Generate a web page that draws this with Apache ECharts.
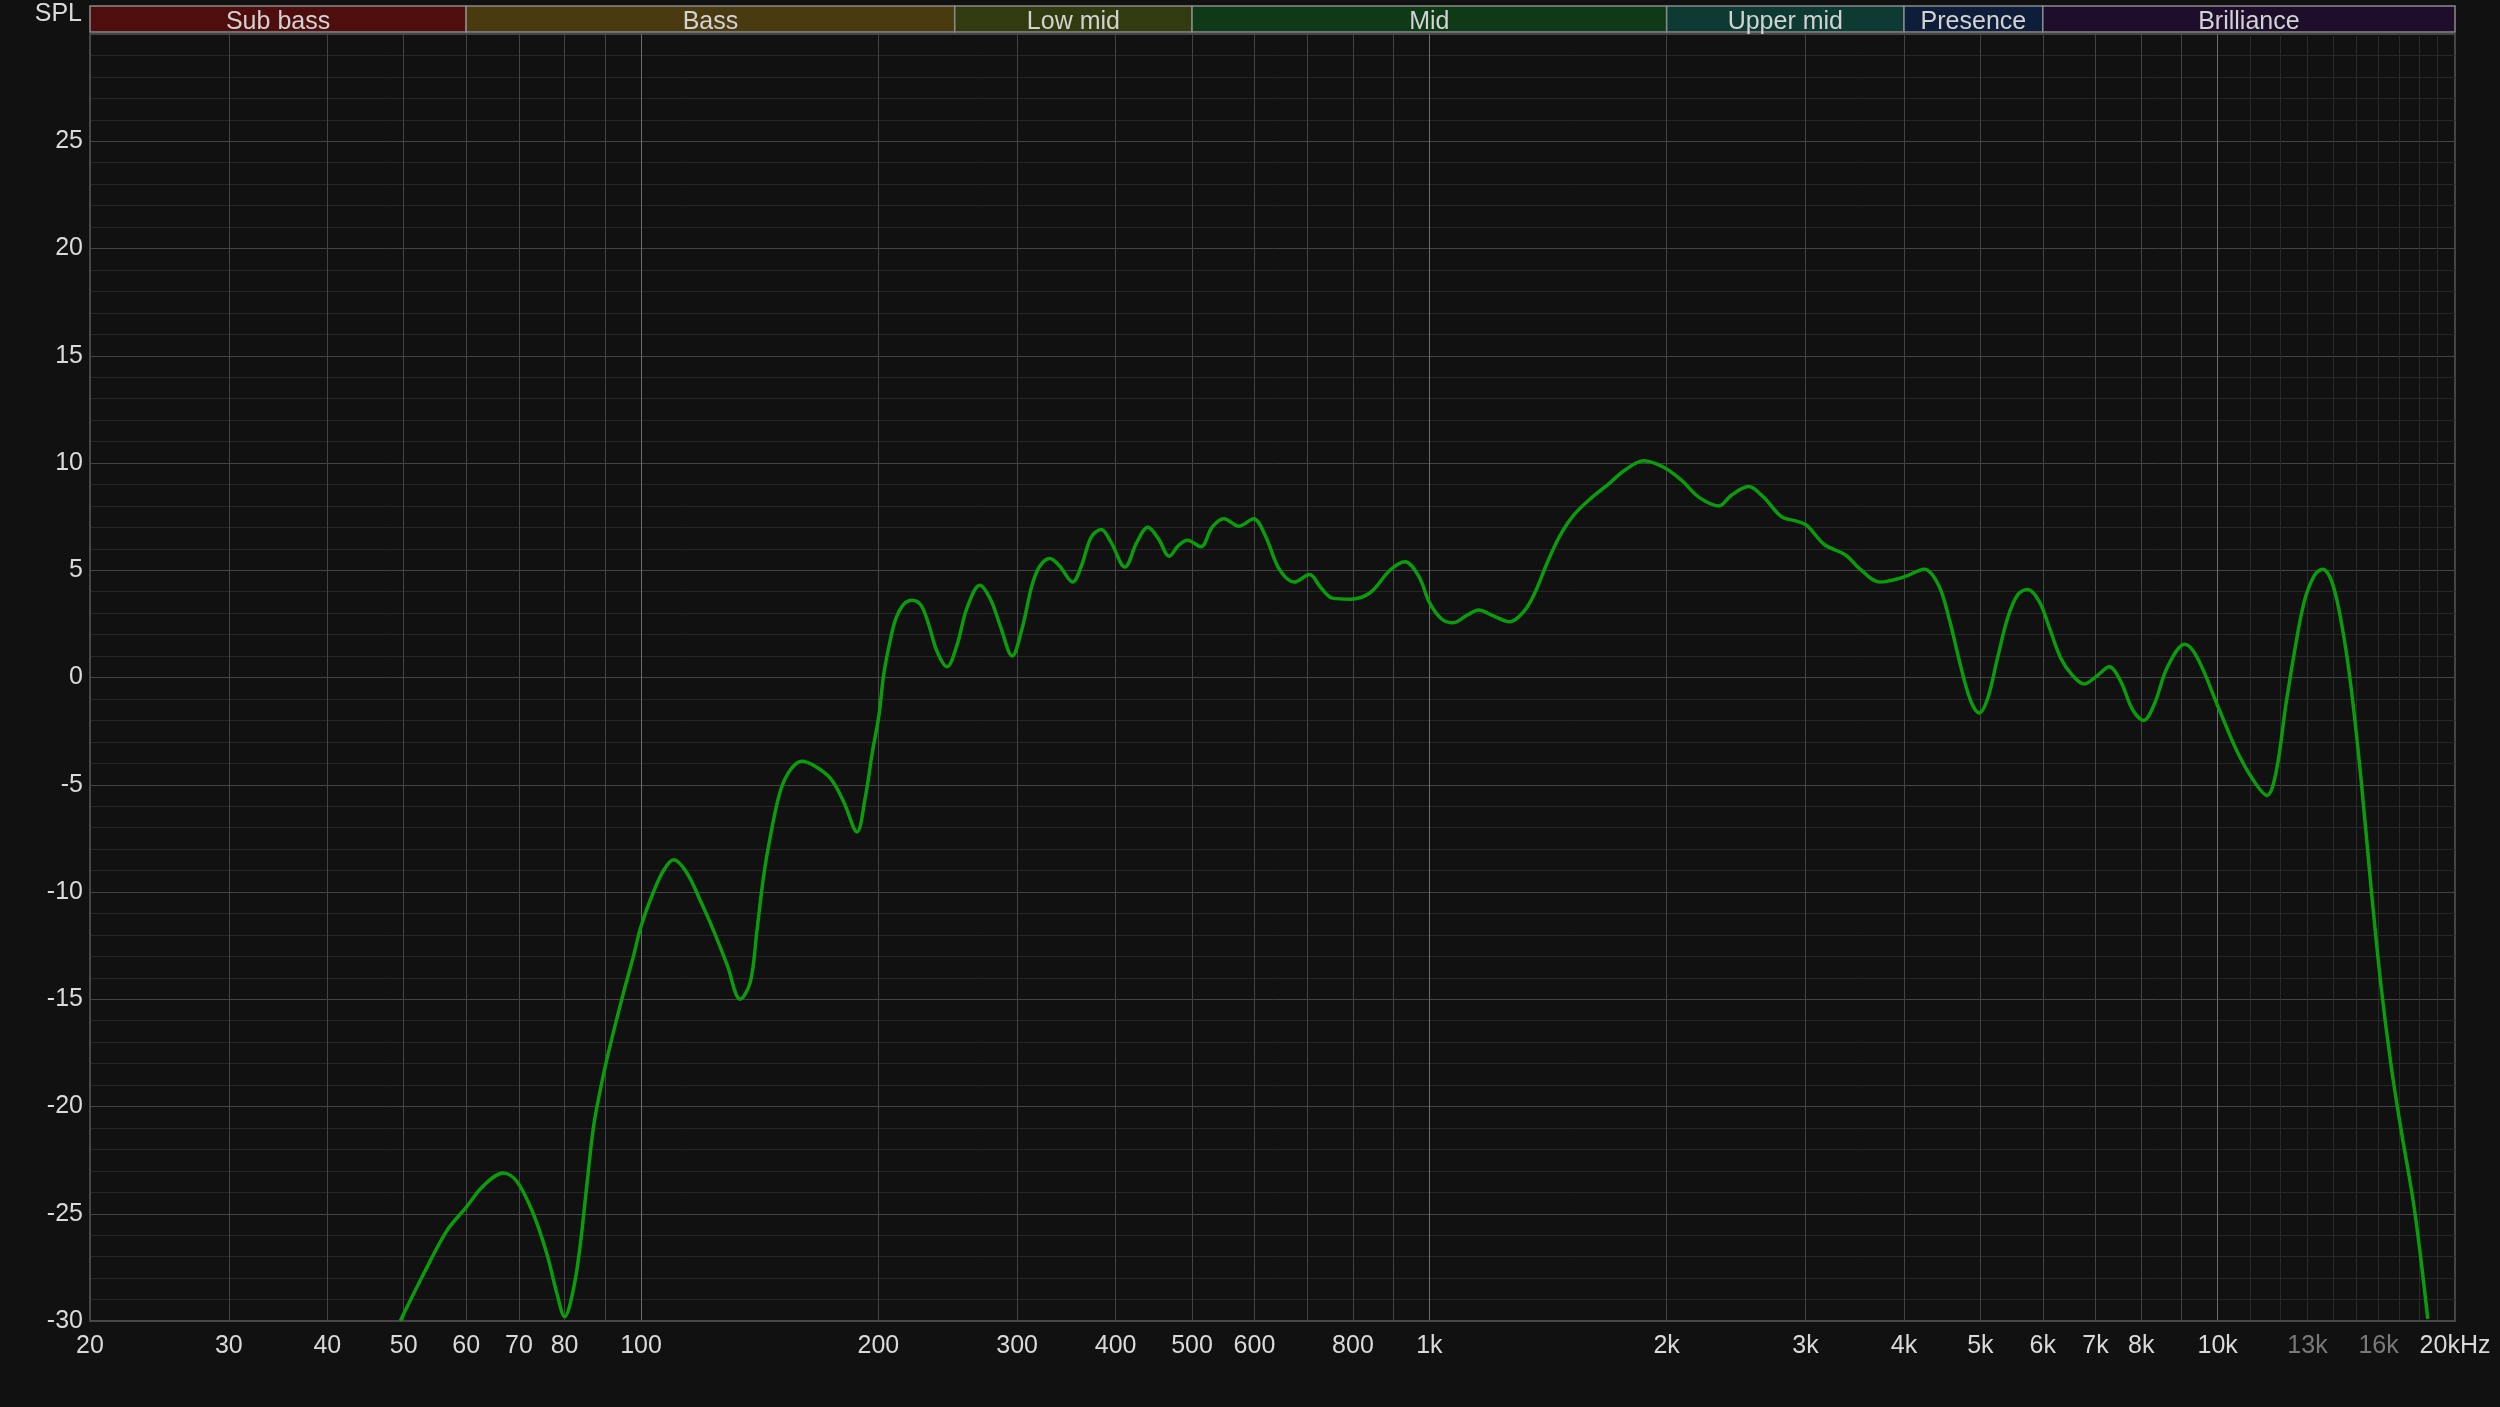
<!DOCTYPE html>
<html><head><meta charset="utf-8">
<script src="https://cdn.jsdelivr.net/npm/echarts@6/dist/echarts.min.js"></script>
<style>html,body{margin:0;padding:0;background:#111111;} #chart{width:2500px;height:1407px;}</style>
</head><body><div id="chart"></div>
<script>
// Frequency response (Hz, dB SPL)
const freqs = [49.5,53.0,56.7,60.0,63.1,66.9,69.6,73.0,76.0,78.2,80.0,82.1,83.7,85.4,87.0,88.7,90.5,92.3,95.0,97.8,100,103.7,106.8,110,114.3,118.9,123.6,128.6,133.6,137.6,140.3,143.0,145.9,150.2,154.7,160.0,165.6,173.9,180.8,187.9,192.5,196.5,200.3,203.1,206.7,210.3,215.2,220.8,226.7,232.0,237.5,244.4,251.6,258.9,269.0,277.5,285.6,295.7,304.4,313.3,320.6,330.0,339.6,352.8,361.9,372.5,383.5,394.7,411.0,425.5,439.5,453.5,467.8,480.4,493.3,513.1,530.0,548.7,573.3,598.4,619.5,645.1,674.0,704.9,728.0,753.7,793.9,841.1,891.2,931.2,970,1000,1035,1070.6,1116,1155,1201,1263,1319,1361,1411,1464,1527,1608,1686,1767,1871,1982,2088,2199,2330,2416,2541,2655,2797,2916,3009,3170,3375,3519,3727,4009,4246,4426,4567,4715,4862,4983,5105,5256,5412,5573,5739,5937,6113,6324,6543,6771,7040,7286,7538,7799,8054,8308,8638,9086,9430,10046,10600,11126,11547,11855,12207,12508,12879,13261,13589,13992,14408,14763,15201,15652,16116,16596,17089,17767,18472];
const spl = [-30,-27.8,-25.8,-24.7,-23.7,-23.1,-23.5,-25.0,-26.9,-28.7,-29.8,-28.5,-26.5,-23.6,-21.0,-19.3,-17.8,-16.5,-14.7,-13.0,-11.6,-10.0,-9.0,-8.5,-9.1,-10.4,-11.8,-13.4,-15.0,-14.2,-11.8,-9.3,-7.4,-5.3,-4.3,-3.9,-4.1,-4.7,-5.8,-7.2,-5.6,-3.5,-1.8,0.1,1.6,2.7,3.4,3.6,3.35,2.4,1.2,0.5,1.5,3.2,4.3,3.65,2.4,1.0,2.3,4.3,5.2,5.55,5.2,4.45,5.2,6.55,6.9,6.3,5.15,6.3,7.0,6.45,5.65,6.15,6.4,6.1,7.0,7.4,7.05,7.4,6.6,5.05,4.45,4.8,4.2,3.7,3.65,3.95,5.0,5.4,4.7,3.5,2.75,2.55,2.9,3.15,2.9,2.6,3.1,3.95,5.35,6.6,7.6,8.4,9.0,9.65,10.1,9.8,9.2,8.4,8.0,8.5,8.9,8.4,7.5,7.3,7.1,6.2,5.7,5.05,4.45,4.7,5.05,4.3,2.7,0.6,-1.1,-1.65,-1.0,0.9,2.75,3.85,4.1,3.55,2.35,0.9,0.1,-0.3,0.1,0.5,-0.2,-1.5,-2.0,-1.25,0.5,1.55,0.9,-1.5,-3.5,-4.85,-5.5,-4.45,-1.25,1.15,3.55,4.75,5.05,4.35,2.2,-0.45,-4.75,-9.8,-14.4,-18.1,-21.1,-24.8,-29.9];

// Frequency bands shown in the header strip
const bandNames = ['Sub bass','Bass','Low mid','Mid','Upper mid','Presence','Brilliance'];
const bandEdges = [20,60,250,500,2000,4000,6000,20000];
const bandColors = ['#4f0e0e','#4a3a10','#323a10','#0e3a18','#0e3a34','#0e1e3a','#1e0e2c'];

// Axis ticks
const gridFreqs = [30,40,50,60,70,80,90,100,200,300,400,500,600,700,800,900,1000,2000,3000,4000,5000,6000,7000,8000,9000,10000,11000,12000,13000,14000,15000,16000,17000,18000,19000,20000];
const labelFreqs = [20,30,40,50,60,70,80,100,200,300,400,500,600,800,1000,2000,3000,4000,5000,6000,7000,8000,10000,13000,16000,20000];
const greyLabels = [13000,16000];
const yMin = -30, yMax = 30, yStep = 5;

const FONT = "'Liberation Sans', Arial, sans-serif";
const gridColors = gridFreqs.map(f => (f===100||f===1000||f===10000) ? '#6c6c6c' : (f>10000 && f<20000) ? '#2a2a2a' : '#444444');

function fmtFreq(v){
  const r = Math.round(v);
  if (r >= 20000) return '20kHz';
  if (r >= 1000) return (r/1000) + 'k';
  return String(r);
}

const bandAreas = bandNames.map((n,i)=>[
  {name:n, xAxis:bandEdges[i], itemStyle:{color:bandColors[i], borderColor:'#8a8a8a', borderWidth:1.5}},
  {xAxis:bandEdges[i+1]}
]);

const chart = echarts.init(document.getElementById('chart'), null, {renderer:'canvas'});
chart.setOption({
  backgroundColor:'#111111',
  animation:false,
  grid:[
    {left:90, right:45, top:34, bottom:86, show:true, borderColor:'#464646', borderWidth:2, backgroundColor:'transparent'},
    {left:90, right:45, top:6, height:26, show:false}
  ],
  xAxis:[
    {type:'log', logBase:10, min:20, max:20000, gridIndex:0,
     axisLine:{show:true, onZero:false, lineStyle:{color:'#464646', width:2}},
     axisTick:{show:false, customValues:gridFreqs},
     axisLabel:{show:true, customValues:labelFreqs, formatter:fmtFreq, fontSize:25, fontFamily:FONT, margin:13,
       color:(v)=> greyLabels.indexOf(Math.round(v))>=0 ? '#7a7a7a' : '#dadada'},
     splitLine:{show:true, lineStyle:{color:gridColors, width:1}},
     minorTick:{show:false}, minorSplitLine:{show:false}
    },
    {type:'log', logBase:10, min:20, max:20000, gridIndex:1, show:false}
  ],
  yAxis:[
    {type:'value', min:yMin, max:yMax, interval:yStep, gridIndex:0,
     name:'SPL', nameLocation:'end', nameGap:7,
     nameTextStyle:{color:'#dadada', fontSize:25, fontFamily:FONT, align:'right', padding:[0,8,0,0]},
     axisLine:{show:true, lineStyle:{color:'#464646', width:2}},
     axisTick:{show:false},
     axisLabel:{color:'#dadada', fontSize:25, fontFamily:FONT, margin:7, padding:[10,0,0,0], formatter:(v)=> v===yMax ? '' : String(v)},
     splitLine:{show:true, lineStyle:{color:'#444444', width:1}},
     minorTick:{show:false, splitNumber:5},
     minorSplitLine:{show:true, lineStyle:{color:'#262626', width:1}}
    },
    {type:'value', min:0, max:1, gridIndex:1, show:false}
  ],
  series:[
    {type:'line', xAxisIndex:1, yAxisIndex:1, data:[], silent:true,
     markArea:{silent:true, label:{show:true, position:'inside', offset:[0,3], color:'#d2d2d2', fontSize:25, fontFamily:FONT}, data:bandAreas}},
    {type:'line', xAxisIndex:0, yAxisIndex:0, data:freqs.map((f,i)=>[f,spl[i]]),
     smooth:0.35, symbol:'none', showSymbol:false, clip:true,
     lineStyle:{color:'#0b9c0b', width:3.5}}
  ]
});
</script></body></html>
